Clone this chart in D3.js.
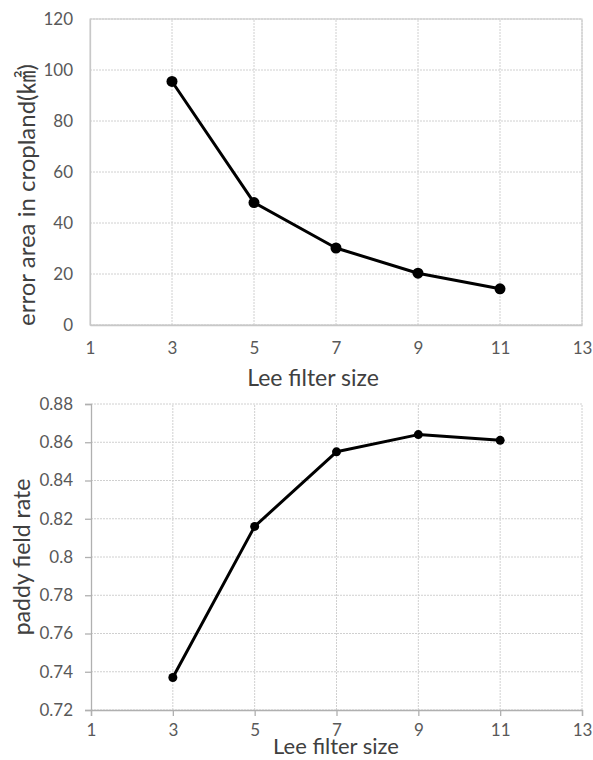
<!DOCTYPE html>
<html>
<head>
<meta charset="utf-8">
<script src="https://cdn.jsdelivr.net/npm/d3@7"></script>
<style>
  body { margin: 0; background: #fff; }
  svg text { font-family: Lato, "Noto Sans CJK JP", sans-serif; }
</style>
</head>
<body>
<div id="chart"></div>
<script>
// data
var filterSizes = [3, 5, 7, 9, 11];
var errorArea = [95.5, 48, 30.2, 20.3, 14.2];
var paddyRate = [0.737, 0.816, 0.855, 0.864, 0.861];
var xTicks = [1, 3, 5, 7, 9, 11, 13];
var yTicksTop = [0, 20, 40, 60, 80, 100, 120];
var yTicksBottom = [0.72, 0.74, 0.76, 0.78, 0.8, 0.82, 0.84, 0.86, 0.88];

var W = 593, H = 760;
var svg = d3.select("#chart").append("svg").attr("width", W).attr("height", H);

function drawPanel(opts) {
  var x = d3.scaleLinear().domain([1, 13]).range([opts.left, 582]);
  var y = d3.scaleLinear().domain(opts.domain).range([opts.bottom, opts.top]);
  var g = svg.append("g");

  // gridlines
  g.selectAll(".hg").data(opts.yTicks).enter().append("line")
    .attr("x1", x(1)).attr("x2", x(13))
    .attr("y1", function(d){ return y(d); }).attr("y2", function(d){ return y(d); })
    .attr("stroke", "#d0d0d0").attr("stroke-width", 1).attr("stroke-dasharray", "2,1");
  g.selectAll(".vg").data(xTicks.slice(1)).enter().append("line")
    .attr("x1", function(d){ return x(d); }).attr("x2", function(d){ return x(d); })
    .attr("y1", y(opts.domain[0])).attr("y2", y(opts.domain[1]))
    .attr("stroke", "#d0d0d0").attr("stroke-width", 1).attr("stroke-dasharray", "2,1");

  if (opts.border) {
    g.append("rect")
      .attr("x", x(1)).attr("y", y(opts.domain[1]))
      .attr("width", x(13) - x(1)).attr("height", y(opts.domain[0]) - y(opts.domain[1]))
      .attr("fill", "none").attr("stroke", "#c8c8c8").attr("stroke-width", 1);
  }

  // axes
  var axisColor = opts.border ? "#c8c8c8" : "#b0b0b0";
  var tick = opts.border ? 0 : 6;
  var yAxis = d3.axisLeft(y).tickValues(opts.yTicks).tickSize(tick).tickPadding(opts.border ? 17 : 12)
    .tickFormat(function(d){ return d3.format(opts.fmt)(d); });
  var xAxis = d3.axisBottom(x).tickValues(xTicks).tickSize(tick).tickPadding(opts.xPad);

  var ya = g.append("g").attr("transform", "translate(" + x(1) + ",0)").call(yAxis);
  var xa = g.append("g").attr("transform", "translate(0," + y(opts.domain[0]) + ")").call(xAxis);
  [ya, xa].forEach(function(a){
    a.select(".domain").attr("stroke", axisColor).attr("stroke-width", 1.3);
    a.selectAll(".tick line").attr("stroke", axisColor).attr("stroke-width", 1.3);
    a.selectAll("text").attr("fill", "#595959").style("font-size", "17px");
  });

  // line + markers
  var pts = filterSizes.map(function(s, i){ return [s, opts.values[i]]; });
  var line = d3.line().x(function(d){ return x(d[0]); }).y(function(d){ return y(d[1]); });
  g.append("path").datum(pts).attr("d", line)
    .attr("fill", "none").attr("stroke", "#000").attr("stroke-width", 3).attr("stroke-linejoin", "round");
  g.selectAll(".pt").data(pts).enter().append("circle")
    .attr("cx", function(d){ return x(d[0]); }).attr("cy", function(d){ return y(d[1]); })
    .attr("r", opts.r).attr("fill", "#000");

  // titles
  g.append("text").attr("x", opts.xTitleX).attr("y", opts.xTitleY)
    .attr("text-anchor", "middle").attr("fill", "#404040").style("font-size", opts.xTitleSize)
    .text("Lee filter size");
  g.append("text")
    .attr("transform", "translate(" + opts.yTitleX + "," + opts.yTitleMid + ") rotate(-90)")
    .attr("text-anchor", "middle").attr("fill", "#404040").style("font-size", opts.yTitleSize)
    .text(opts.yTitle);
}

drawPanel({
  left: 90, top: 19, bottom: 325, domain: [0, 120], yTicks: yTicksTop, fmt: "d",
  values: errorArea, border: true, r: 5.5, xPad: 17,
  xTitleX: 313, xTitleY: 386, xTitleSize: "23px",
  yTitleX: 35, yTitleMid: 195, yTitleSize: "24px",
  yTitle: "error area in cropland(㎢)"
});

drawPanel({
  left: 91, top: 404, bottom: 710, domain: [0.72, 0.88], yTicks: yTicksBottom, fmt: "",
  values: paddyRate, border: false, r: 4.5, xPad: 8,
  xTitleX: 336, xTitleY: 754, xTitleSize: "22px",
  yTitleX: 30, yTitleMid: 557, yTitleSize: "23px",
  yTitle: "paddy field rate"
});
</script>
</body>
</html>
